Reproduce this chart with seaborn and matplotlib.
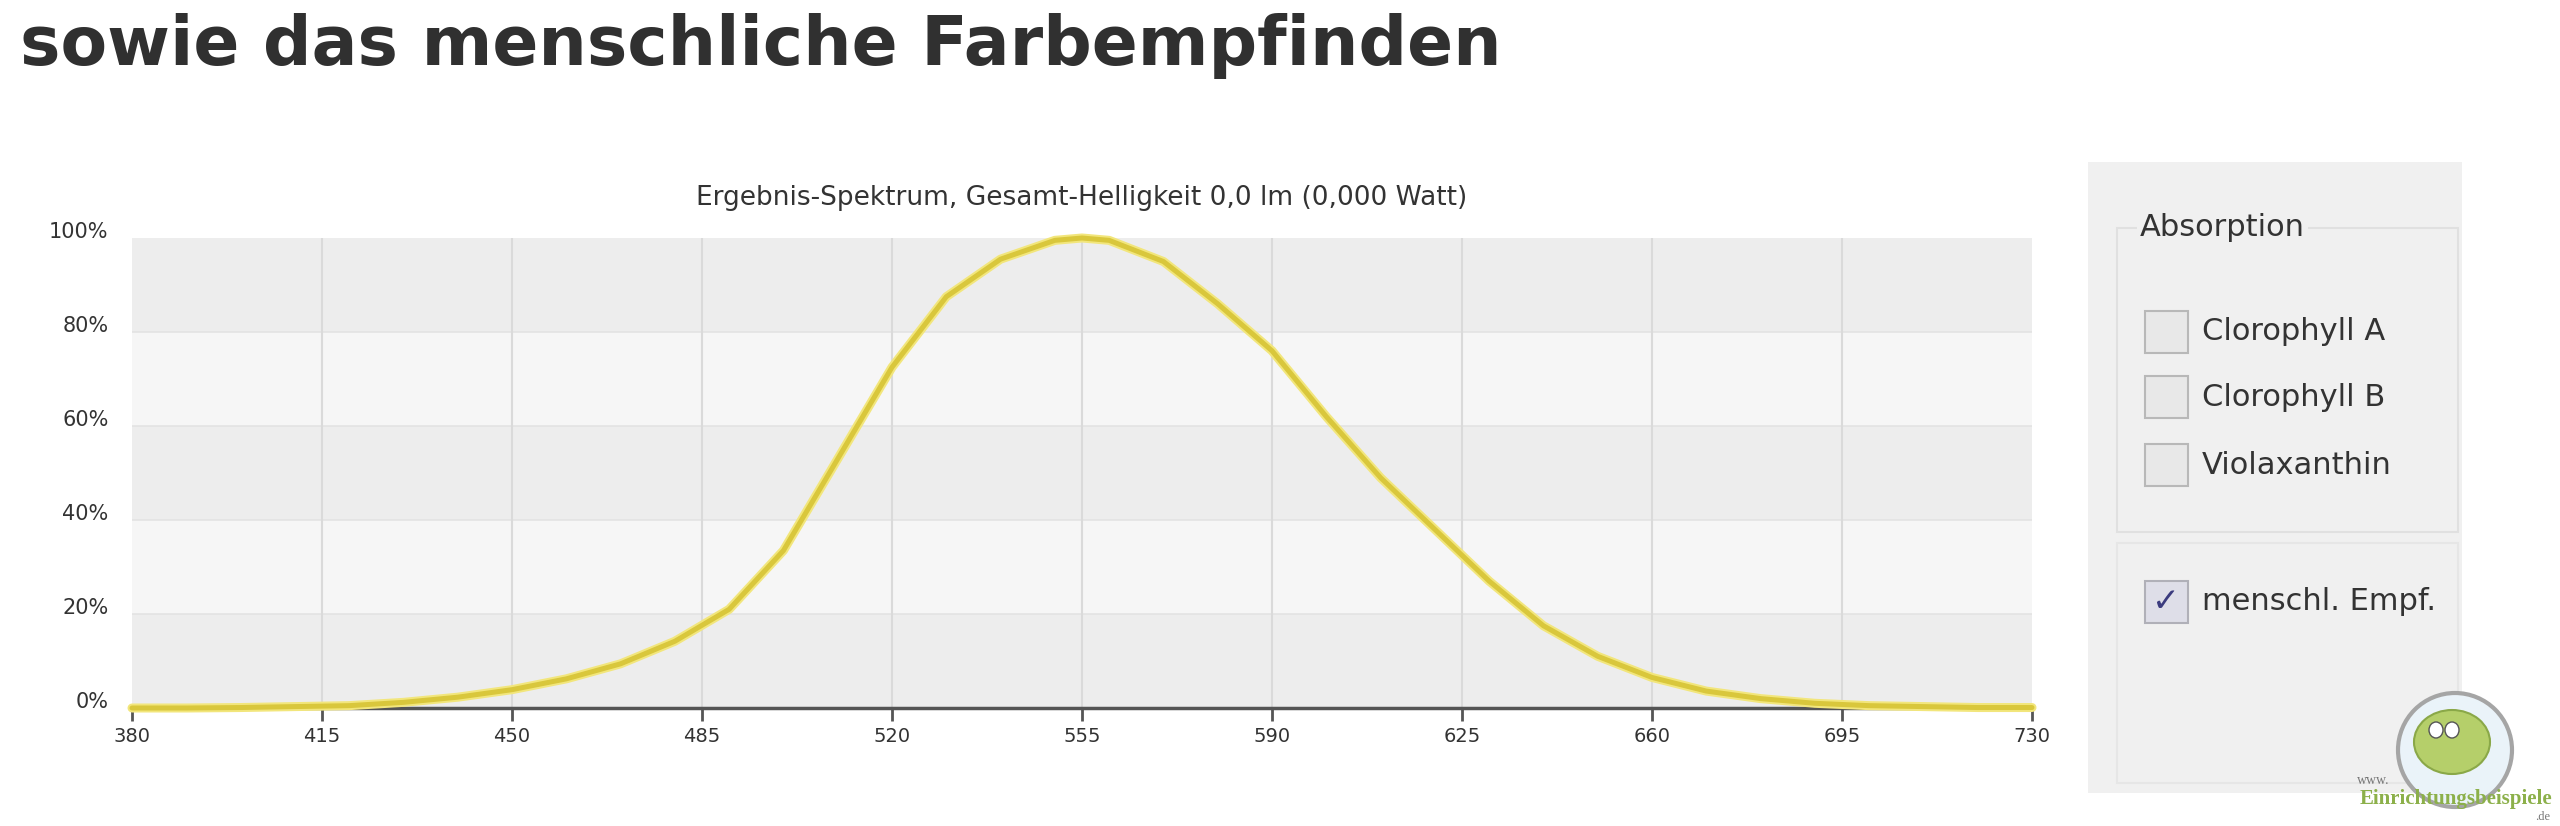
import matplotlib.pyplot as plt
import matplotlib.patches as mpatches
import matplotlib.patheffects as pe
import matplotlib.transforms as mtransforms
import pandas as pd
import seaborn as sns

# values (percent of peak sensitivity)
wavelength_nm = [380, 390, 400, 410, 420, 430, 440, 450, 460, 470, 480, 490, 500,
                 510, 520, 530, 540, 550, 555, 560, 570, 580, 590, 600, 610, 620,
                 630, 640, 650, 660, 670, 680, 690, 700, 710, 720, 730]
sensitivity_pct = [0.0, 0.0, 0.1, 0.3, 0.5, 1.2, 2.3, 3.9, 6.2, 9.4, 14.2, 21.0, 33.5,
                   53.0, 72.5, 87.5, 95.5, 99.5, 100.0, 99.5, 95.0, 86.0, 76.0, 62.0, 49.0, 38.0,
                   27.0, 17.5, 11.0, 6.5, 3.6, 2.0, 1.0, 0.5, 0.3, 0.1, 0.1]

x_ticks = [380, 415, 450, 485, 520, 555, 590, 625, 660, 695, 730]
y_ticks = [0, 20, 40, 60, 80, 100]

heading = "sowie das menschliche Farbempfinden"
chart_title = "Ergebnis-Spektrum, Gesamt-Helligkeit 0,0 lm (0,000 Watt)"
group_title = "Absorption"
absorption_items = ["Clorophyll A", "Clorophyll B", "Violaxanthin"]
sensitivity_item = "menschl. Empf."

W, H = 2560, 826


def fx(px):
    return px / W


def fy(py):
    return 1 - py / H


def add_box(fig, x0, y0, x1, y1, **kw):
    rect = mpatches.Rectangle((fx(x0), fy(y1)), fx(x1) - fx(x0), fy(y0) - fy(y1),
                              transform=fig.transFigure, **kw)
    fig.add_artist(rect)
    return rect


def main():
    sns.set_theme(style="white")
    plt.rcParams["font.family"] = ["DejaVu Sans"]

    df = pd.DataFrame({"wavelength": wavelength_nm, "sensitivity": sensitivity_pct})

    fig = plt.figure(figsize=(25.6, 8.26), dpi=100)
    fig.patch.set_facecolor("white")

    # heading above the chart
    fig.text(fx(20), fy(65), heading, fontsize=49, fontweight="bold",
             color="#303030", va="baseline", ha="left")

    ax = fig.add_axes([fx(132), fy(708), fx(2032) - fx(132), fy(238) - fy(708)])
    ax.set_facecolor("#f2f2f2")

    # alternating horizontal bands
    for i, (lo, hi) in enumerate(zip(y_ticks[:-1], y_ticks[1:])):
        ax.axhspan(lo, hi, color="#ededed" if i % 2 == 0 else "#f6f6f6", lw=0, zorder=0)
    for v in y_ticks[1:-1]:
        ax.axhline(v, color="#e3e3e3", lw=1.2, zorder=0.5)
    for v in x_ticks[1:-1]:
        ax.axvline(v, color="#dadada", lw=1.5, zorder=0.5)

    sns.lineplot(data=df, x="wavelength", y="sensitivity", ax=ax,
                 color="#d9c73c", lw=3.6, zorder=3, clip_on=False)
    ax.lines[-1].set_path_effects([pe.Stroke(linewidth=6.5, foreground="#f2e67c"), pe.Normal()])

    ax.set_xlim(380, 730)
    ax.set_ylim(0, 100)
    ax.set_xticks(x_ticks)
    ax.set_yticks(y_ticks)
    ax.set_yticklabels([f"{v}%" for v in y_ticks])
    ax.set_xlabel("")
    ax.set_ylabel("")
    for side in ["top", "right", "left"]:
        ax.spines[side].set_visible(False)
    ax.spines["bottom"].set_color("#555555")
    ax.spines["bottom"].set_linewidth(2.5)
    ax.spines["bottom"].set_zorder(2)
    ax.tick_params(axis="x", bottom=True, length=9, width=2, color="#555555", pad=5,
                   labelsize=14, labelcolor="#333333")
    ax.tick_params(axis="y", left=False, length=0, pad=17, labelsize=15, labelcolor="#333333")
    offset = mtransforms.ScaledTranslation(0, 6 / 72, fig.dpi_scale_trans)
    for lbl in ax.get_yticklabels():
        lbl.set_transform(lbl.get_transform() + offset)
    ax.set_title(chart_title, fontsize=19, color="#333333", pad=24)

    # side panel with the checkboxes
    add_box(fig, 2088, 162, 2462, 793, facecolor="#f0f0f0", edgecolor="none")
    add_box(fig, 2117, 228, 2458, 532, facecolor="none", edgecolor="#e0e0e0", lw=1.5)
    add_box(fig, 2117, 543, 2458, 783, facecolor="none", edgecolor="#e6e6e6", lw=1.5)
    fig.text(fx(2140), fy(228), group_title, fontsize=22, color="#333333", va="center",
             bbox=dict(facecolor="#f0f0f0", edgecolor="none", pad=2))

    box_y = [332, 397, 465]
    for label, yc in zip(absorption_items, box_y):
        add_box(fig, 2145, yc - 21, 2188, yc + 21, facecolor="#e8e8e8", edgecolor="#b8b8b8", lw=1.5)
        fig.text(fx(2202), fy(yc), label, fontsize=22, color="#333333", va="center")

    yc = 602
    add_box(fig, 2145, yc - 21, 2188, yc + 21, facecolor="#dedee8", edgecolor="#b0b0b8", lw=1.5)
    fig.text(fx(2166), fy(yc), "\u2713", fontsize=24, color="#3b3b7e", va="center", ha="center",
             fontweight="bold")
    fig.text(fx(2202), fy(yc), sensitivity_item, fontsize=22, color="#333333", va="center")

    # watermark logo
    logo = mpatches.Ellipse((fx(2455), fy(750)), 114 / W, 114 / H, transform=fig.transFigure,
                            facecolor="#eaf3f9", edgecolor="#a5a5a5", lw=3)
    fig.add_artist(logo)
    fish = mpatches.Ellipse((fx(2452), fy(742)), 76 / W, 64 / H, transform=fig.transFigure,
                            facecolor="#b5cf6a", edgecolor="#8aa848", lw=1.5)
    fig.add_artist(fish)
    for ex in (2436, 2452):
        eye = mpatches.Ellipse((fx(ex), fy(730)), 14 / W, 16 / H, transform=fig.transFigure,
                               facecolor="white", edgecolor="#555555", lw=1)
        fig.add_artist(eye)
    fig.text(fx(2357), fy(784), "www.", fontsize=10, color="#777777", family="Liberation Serif")
    fig.text(fx(2552), fy(804), "Einrichtungsbeispiele", fontsize=15, color="#8cb04a",
             family="Liberation Serif", fontweight="bold", ha="right")
    fig.text(fx(2550), fy(820), ".de", fontsize=9, color="#777777", ha="right",
             family="Liberation Serif")

    fig.savefig("out.png", dpi=100)
    plt.close(fig)


if __name__ == "__main__":
    main()
